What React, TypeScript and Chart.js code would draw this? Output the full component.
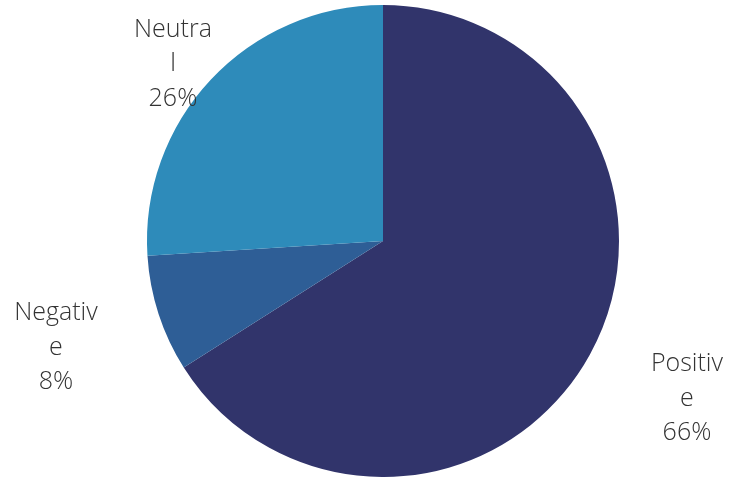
import React, { useEffect, useRef } from "react";
import { Chart, registerables } from "chart.js";

Chart.register(...registerables);

const categories = ["Positive", "Negative", "Neutral"];
const values = [66, 8, 26];
const labelLines = [
  ["Positiv", "e"],
  ["Negativ", "e"],
  ["Neutra", "l"],
];
const colors = ["#31346B", "#2E5E96", "#2E8BBA"];
// label anchor (middle line baseline) as a multiple of the pie radius from its centre
const labelOffset = [
  [1.288, 0.699],
  [-1.386, 0.483],
  [-0.89, -0.72],
];

const labelPlugin = {
  id: "outerLabels",
  afterDraw(chart: any) {
    const ctx = chart.ctx;
    const meta = chart.getDatasetMeta(0);
    const total = values.reduce((a, b) => a + b, 0);
    ctx.save();
    ctx.font = "300 25px 'Open Sans'";
    ctx.fillStyle = "#333333";
    ctx.textAlign = "center";
    ctx.textBaseline = "alphabetic";
    const lh = 34.5;
    meta.data.forEach((arc: any, i: number) => {
      const r = arc.outerRadius;
      const cx = arc.x + labelOffset[i][0] * r;
      const cy = arc.y + labelOffset[i][1] * r;
      const pct = Math.round((values[i] / total) * 100) + "%";
      const lines = [...labelLines[i], pct];
      const start = cy - ((lines.length - 1) * lh) / 2;
      lines.forEach((t, k) => ctx.fillText(t, cx, start + k * lh));
    });
    ctx.restore();
  },
};

export default function App() {
  const ref = useRef<HTMLCanvasElement>(null);
  useEffect(() => {
    document.body.style.margin = "0";
    const chart = new Chart(ref.current!, {
      type: "pie",
      data: {
        labels: categories,
        datasets: [
          {
            data: values,
            backgroundColor: colors,
            borderWidth: 0,
          },
        ],
      },
      options: {
        animation: false,
        responsive: false,
        layout: { padding: { left: 147, right: 114, top: 5, bottom: 0 } },
        plugins: { legend: { display: false }, tooltip: { enabled: false } },
      },
      plugins: [labelPlugin],
    });
    return () => chart.destroy();
  }, []);
  return (
    <div style={{ position: "absolute", left: 0, top: 0, width: 733, height: 477, background: "#fff" }}>
      <canvas ref={ref} width={733} height={477} style={{ width: 733, height: 477 }} />
    </div>
  );
}
